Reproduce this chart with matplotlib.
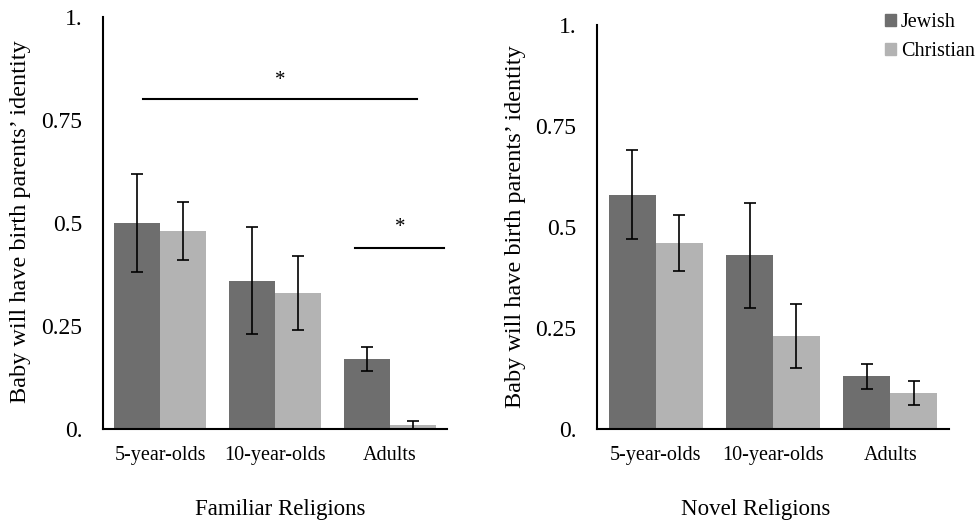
import matplotlib
matplotlib.use("Agg")
import matplotlib.pyplot as plt
import numpy as np
from matplotlib.patches import Patch

plt.rcParams['font.family'] = ['Liberation Serif', 'DejaVu Serif']

groups = ["5-year-olds", "10-year-olds", "Adults"]
series = ["Jewish", "Christian"]
colors = ["#6e6e6e", "#b3b3b3"]

fam_jewish = [0.50, 0.36, 0.17]
fam_jewish_lo = [0.38, 0.23, 0.14]
fam_jewish_hi = [0.62, 0.49, 0.20]
fam_christian = [0.48, 0.33, 0.01]
fam_christian_lo = [0.41, 0.24, 0.00]
fam_christian_hi = [0.55, 0.42, 0.02]

nov_jewish = [0.58, 0.43, 0.13]
nov_jewish_lo = [0.47, 0.30, 0.10]
nov_jewish_hi = [0.69, 0.56, 0.16]
nov_christian = [0.46, 0.23, 0.09]
nov_christian_lo = [0.39, 0.15, 0.06]
nov_christian_hi = [0.53, 0.31, 0.12]

yticks = [0, 0.25, 0.5, 0.75, 1.0]
yticklabels = ["0.", "0.25", "0.5", "0.75", "1."]
ylabel = "Baby will have birth parents\u2019 identity"

fig = plt.figure(figsize=(9.75, 5.25), dpi=100)
W, H = 975, 525

def px_axes(x0, x1, ybot, ytop):
    return fig.add_axes([x0 / W, 1 - ybot / H, (x1 - x0) / W, (ybot - ytop) / H])

ax1 = px_axes(103, 447, 429, 17)
ax2 = px_axes(597, 949, 429, 25)

def draw(ax, vals, los, his):
    x = np.arange(len(groups))
    w = 0.4
    for i, (v, lo, hi) in enumerate(zip(vals, los, his)):
        xs = x + (i - 0.5) * w
        v = np.array(v)
        err = np.array([v - np.array(lo), np.array(hi) - v])
        ax.bar(xs, v, width=w, color=colors[i], label=series[i], zorder=2)
        ax.errorbar(xs, v, yerr=err, fmt='none', ecolor='black',
                    elinewidth=1.2, capsize=4, capthick=1.2, zorder=3)
    ax.set_xlim(-0.5, 2.5)
    ax.set_ylim(0, 1.0)
    ax.set_xticks(x)
    ax.set_xticklabels(groups, fontsize=14.5)
    ax.set_yticks(yticks)
    ax.set_yticklabels(yticklabels, fontsize=17)
    ax.tick_params(axis='both', length=0)
    ax.tick_params(axis='y', pad=15)
    ax.tick_params(axis='x', pad=12)
    for s in ['top', 'right']:
        ax.spines[s].set_visible(False)
    for s in ['left', 'bottom']:
        ax.spines[s].set_linewidth(1.5)
        ax.spines[s].set_color('black')

draw(ax1, [fam_jewish, fam_christian], [fam_jewish_lo, fam_christian_lo],
     [fam_jewish_hi, fam_christian_hi])
draw(ax2, [nov_jewish, nov_christian], [nov_jewish_lo, nov_christian_lo],
     [nov_jewish_hi, nov_christian_hi])

# significance markers
ax1.plot([-0.15, 2.24], [0.80, 0.80], color='black', lw=1.5, zorder=4)
ax1.text(1.05, 0.845, "*", ha='center', va='center', fontsize=15)
ax1.plot([1.70, 2.47], [0.44, 0.44], color='black', lw=1.5, zorder=4)
ax1.text(2.09, 0.49, "*", ha='center', va='center', fontsize=15)

fig.text(280 / W, 1 - 510 / H, "Familiar Religions", ha='center', va='center', fontsize=16.5)
fig.text(756 / W, 1 - 510 / H, "Novel Religions", ha='center', va='center', fontsize=16.5)
fig.text(21 / W, 1 - 222 / H, ylabel, rotation=90, ha='center', va='center', fontsize=17.5)
fig.text(515 / W, 1 - 227 / H, ylabel, rotation=90, ha='center', va='center', fontsize=17.5)

handles = [Patch(color=colors[0]), Patch(color=colors[1])]
fig.legend(handles, series, loc='upper left', bbox_to_anchor=(885 / W, 1 - 13 / H),
           frameon=False, fontsize=14.5, handlelength=0.55, handleheight=0.55,
           handletextpad=0.25, borderpad=0, borderaxespad=0, labelspacing=0.5)

fig.savefig("out.png", dpi=100)
